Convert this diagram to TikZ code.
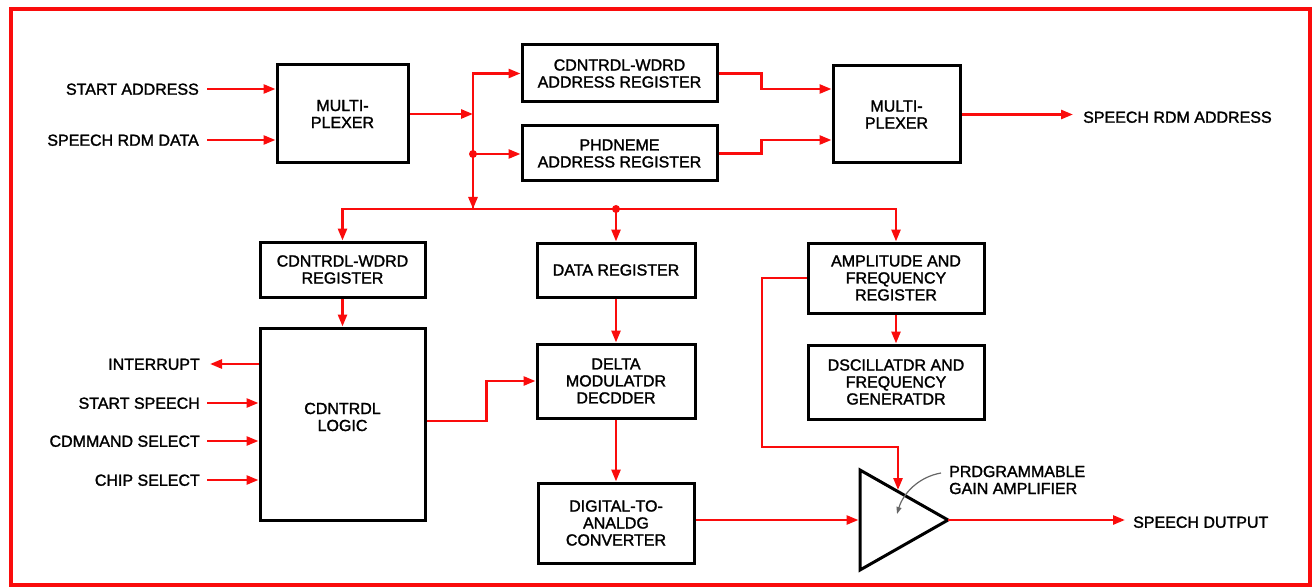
\documentclass[tikz,border=0pt]{standalone}
\usepackage{fontspec}
\newfontfamily\lbl{Liberation Sans}[FakeBold=1.6]
\usetikzlibrary{arrows.meta,calc}
\definecolor{wirered}{RGB}{250,12,12}
\begin{document}
\begin{tikzpicture}[x=1pt,y=-1pt,
  wire/.style={draw=wirered, line width=2.6pt},
  arr/.style={wire, -{Triangle[length=12pt,width=9pt]}},
  box/.style={draw=black, line width=3pt, align=center, inner sep=0pt, font=\lbl\fontsize{16}{17}\selectfont},
  lab/.style={font=\lbl\fontsize{16}{17}\selectfont, inner sep=0pt, text height=11.5pt, text depth=0pt},
  txt/.style={font=\lbl\fontsize{16}{17}\selectfont, inner sep=0pt, align=center},
  dot/.style={circle, fill=wirered, inner sep=0pt, minimum size=8pt}]
\useasboundingbox (0,0) rectangle (1314,588);
\draw[wirered, line width=4pt] (10.5,9.5) rectangle (1310,585);

% boxes
\node[box, minimum width=131pt, minimum height=98pt] (mux1) at (342.5,114) {MULTI-\\PLEXER};
\node[box, minimum width=195pt, minimum height=57pt] (cwaddr) at (619.5,73.5) {CDNTRDL-WDRD\\ADDRESS REGISTER};
\node[box, minimum width=195pt, minimum height=55pt] (phaddr) at (619.5,153.5) {PHDNEME\\ADDRESS REGISTER};
\node[box, minimum width=127pt, minimum height=97pt] (mux2) at (896.5,114.5) {MULTI-\\PLEXER};
\node[box, minimum width=165pt, minimum height=55pt] (cwreg) at (342.5,269.5) {CDNTRDL-WDRD\\REGISTER};
\node[box, minimum width=165pt, minimum height=192pt] (ctrl) at (342.5,424) {};
\node[txt] (ctrlT) at (342.5,417) {CDNTRDL\\LOGIC};
\node[box, minimum width=158pt, minimum height=54pt] (datareg) at (616,270) {DATA REGISTER};
\node[box, minimum width=158pt, minimum height=74pt] (delta) at (616,381) {DELTA\\MODULATDR\\DECDDER};
\node[box, minimum width=156pt, minimum height=80pt] (dac) at (616,523) {DIGITAL-TO-\\ANALDG\\CONVERTER};
\node[box, minimum width=176pt, minimum height=70pt] (ampreg) at (896,278) {AMPLITUDE AND\\FREQUENCY\\REGISTER};
\node[box, minimum width=176pt, minimum height=74pt] (osc) at (896,382) {DSCILLATDR AND\\FREQUENCY\\GENERATDR};

% amplifier triangle
\coordinate (ampT) at (860,470);
\coordinate (ampB) at (860,570);
\coordinate (ampA) at (948,520);
\coordinate (ampL) at (860,520);
\draw[black, line width=3pt, line join=miter] (ampT) -- (ampA) -- (ampB) -- cycle;

% outside labels
\node[lab, anchor=east] (sa) at (199,89) {START ADDRESS};
\node[lab, anchor=east] (sd) at (199,140) {SPEECH RDM DATA};
\node[lab, anchor=east] (ir) at (200,364) {INTERRUPT};
\node[lab, anchor=east] (ss) at (200,403) {START SPEECH};
\node[lab, anchor=east] (cs) at (200,441) {CDMMAND SELECT};
\node[lab, anchor=east] (chs) at (200,480) {CHIP SELECT};
\node[lab, anchor=west] (sra) at (1083,117) {SPEECH RDM ADDRESS};
\node[lab, anchor=west] (so) at (1133,522) {SPEECH DUTPUT};
\node[txt, align=left, anchor=west] (pga) at (949,480) {PRDGRAMMABLE\\GAIN AMPLIFIER};

% input arrows
\draw[arr] ([xshift=8pt]sa.east) -- (sa.east -| mux1.west);
\draw[arr] ([xshift=8pt]sd.east) -- (sd.east -| mux1.west);
\draw[arr] (ir.east -| ctrl.west) -- ([xshift=10pt]ir.east);
\draw[arr] ([xshift=7pt]ss.east) -- (ss.east -| ctrl.west);
\draw[arr] ([xshift=7pt]cs.east) -- (cs.east -| ctrl.west);
\draw[arr] ([xshift=7pt]chs.east) -- (chs.east -| ctrl.west);

% bus
\coordinate (bj) at (473,114);
\coordinate (bm) at (473,154);
\coordinate (bb) at (473,209);
\draw[arr] (mux1.east) -- (bj);
\draw[arr] (bb) |- (cwaddr.west);
\draw[arr] (bm) -- (bb);
\draw[arr] (bm) -- (bm -| phaddr.west);
\node[dot] (dotm) at (bm) {};
\draw[arr] (bb) -| (cwreg.north);
\draw[arr] (bb) -| (ampreg.north);
\draw[arr] (datareg.north |- bb) -- (datareg.north);
\node[dot] (dotd) at (datareg.north |- bb) {};

% to second multiplexer
\draw[arr] (cwaddr.east) -- ++(43,0) |- ([yshift=25.5pt]mux2.west);
\draw[arr] (phaddr.east) -- ++(43,0) |- ([yshift=-25.5pt]mux2.west);
\draw[arr] (mux2.east) -- ([xshift=-10pt]sra.west |- mux2.east);

% lower chain
\draw[arr] (cwreg.south) -- (ctrl.north);
\draw[arr] (datareg.south) -- (delta.north);
\draw[arr] (delta.south) -- (dac.north);
\draw[arr] (ampreg.south) -- (osc.north);
\draw[arr] ([yshift=3pt]ctrl.east) -- ++(60,0) |- (delta.west);
\draw[arr] (dac.east |- ampL) -- ([xshift=-1.5pt]ampL);
\draw[arr] (ampA) -- ([xshift=-8pt]so.west |- ampA);

% gain control feedback
\coordinate (fbC) at (762,447);
\coordinate (fbTip) at (898,490);
\draw[arr] (ampreg.west) -| (fbC) -| (fbTip);

% pointer to amplifier
\coordinate (pgS) at (941,473);
\coordinate (pgE) at (897,514);
\draw[black!60, line width=1.2pt, -{Triangle[length=7pt,width=5pt]}] (pgS) .. controls (918,477) and (903,494) .. (pgE);
\end{tikzpicture}
\end{document}
